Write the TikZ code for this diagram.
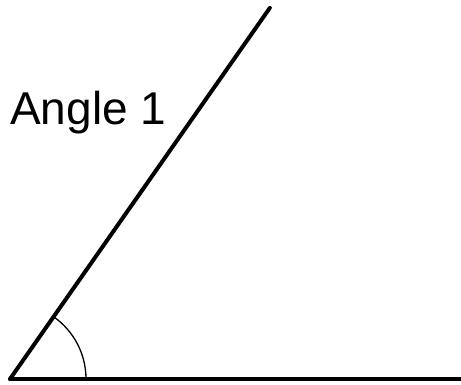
\documentclass[tikz,border=0pt]{standalone}
\usepackage{fontspec}
\setmainfont{Liberation Sans}
\usepackage{tikz}
\usetikzlibrary{positioning, calc}

\begin{document}
\begin{tikzpicture}[
  x=1pt, y=1pt,
  ray/.style={line width=4pt, line cap=round},
  anglearc/.style={line width=1.3pt},
  label/.style={font=\fontsize{46}{50}\selectfont, inner sep=0pt, anchor=base west}
]
  \useasboundingbox (0,0) rectangle (461,385);

  % ── Points ─────────────────────────────────────────────────────────────────
  \coordinate (vertex) at (10, 6);
  \coordinate (tipup)  at ($(vertex)+(55:453)$);
  \coordinate (tipright) at (463, 6);

  % ── Rays ───────────────────────────────────────────────────────────────────
  \draw[ray] (vertex) -- (tipup);
  \draw[ray] (vertex) -- (tipright);

  % ── Angle mark ─────────────────────────────────────────────────────────────
  \draw[anglearc] ($(vertex)+(76,0)$) arc[start angle=0, end angle=55, radius=76];

  % ── Label ──────────────────────────────────────────────────────────────────
  \node[label] (anglename) at (10, 260) {Angle 1};
\end{tikzpicture}
\end{document}
